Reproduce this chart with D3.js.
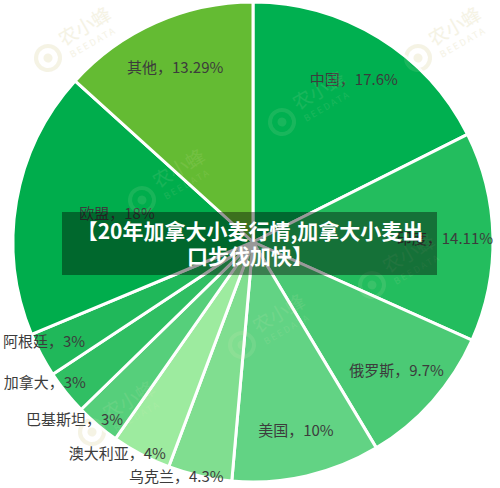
<!DOCTYPE html>
<html><head><meta charset="utf-8">
<script src="https://cdn.jsdelivr.net/npm/d3@7/dist/d3.min.js"></script>
<style>html,body{margin:0;padding:0;background:#fff;}svg{display:block;}</style>
</head><body>
<svg id="chart" width="500" height="488"></svg>
<script>
const categories = ["中国","印度","俄罗斯","美国","乌克兰","澳大利亚","巴基斯坦","加拿大","阿根廷","欧盟","其他"];
const values = [17.6,14.11,9.7,10,4.3,4,3,3,3,18,13.29];
const colors = ["#00b050","#23bd5e","#4bca75","#62d384","#80de90","#9deb9f","#56cf7b","#30bf63","#20b85a","#00ad4c","#64bb33"];
const titleLines = ["【20年加拿大小麦行情,加拿大小麦出","口步伐加快】"];

const svg = d3.select("#chart");
const W = 500, H = 488;
const cx = 253, cy = 242, R = 240;
const font = "'Noto Sans CJK SC','Noto Sans',sans-serif";

const data = categories.map((c,i)=>({name:c, value:values[i], color:colors[i]}));
const pie = d3.pie().sort(null).value(d=>d.value);
const arcs = pie(data);
const arc = d3.arc().innerRadius(0).outerRadius(R);

// faint watermarks
const wmPos = [[48,58],[418,58],[282,122],[142,200],[242,345],[92,432],[372,285]];
function drawWM(layer, color, op){
  wmPos.forEach(([x,y])=>{
    const g = layer.append("g").attr("transform",`translate(${x},${y}) rotate(-30)`).attr("opacity",op);
    g.append("circle").attr("r",12).attr("fill","none").attr("stroke",color).attr("stroke-width",4);
    g.append("circle").attr("r",4.5).attr("fill",color);
    g.append("text").attr("x",19).attr("y",-2).attr("font-family",font).attr("font-size",19)
      .attr("fill",color).text("农小蜂");
    g.append("text").attr("x",21).attr("y",12).attr("font-family",font).attr("font-size",9)
      .attr("letter-spacing",2).attr("fill",color).text("BEEDATA");
  });
}
drawWM(svg.append("g"), "#e6e0c0", 0.35);

const gPie = svg.append("g").attr("transform",`translate(${cx},${cy})`);
gPie.selectAll("path").data(arcs).join("path")
  .attr("d",arc).attr("fill",d=>d.data.color)
  .attr("stroke","#fff").attr("stroke-width",3).attr("stroke-linejoin","round");

drawWM(svg.append("g"), "#f4f0c8", 0.1);

// labels
const maxV = d3.max(values);
const labels = gPie.selectAll("text.lbl").data(arcs).join("text")
  .attr("class","lbl")
  .attr("font-family",font).attr("font-size",15).attr("fill","#3c3c3c")
  .attr("text-anchor","middle").attr("dominant-baseline","central")
  .text(d=>`${d.data.name}，${d.data.value}%`);
labels.each(function(d){
  const span = d.endAngle - d.startAngle;
  let a = (d.startAngle + d.endAngle)/2, r;
  if (span < 0.35) { r = R*1.045; a += 5*Math.PI/180; }
  else if (d.value === maxV) { r = R*0.58; a += 2.5*Math.PI/180; }
  else r = R*0.8;
  let x = r*Math.sin(a), y = -r*Math.cos(a);
  const w = this.getComputedTextLength();
  const minX = 3 - cx + w/2;
  if (x < minX) x = minX;
  const maxX = W - 3 - cx - w/2;
  if (x > maxX) x = maxX;
  const maxY = H - 13 - cy;
  if (y > maxY) y = maxY;
  d3.select(this).attr("x",x).attr("y",y);
});

// title banner
svg.append("rect").attr("x",62).attr("y",212).attr("width",375).attr("height",63)
  .attr("fill","rgba(0,0,0,0.4)");
svg.append("g").selectAll("text").data(titleLines).join("text")
  .attr("x",250).attr("y",(d,i)=>230+i*25)
  .attr("text-anchor","middle").attr("dominant-baseline","central")
  .attr("font-family",font).attr("font-size",21).attr("font-weight","bold")
  .attr("fill","#fff").text(d=>d);
</script>
</body></html>
